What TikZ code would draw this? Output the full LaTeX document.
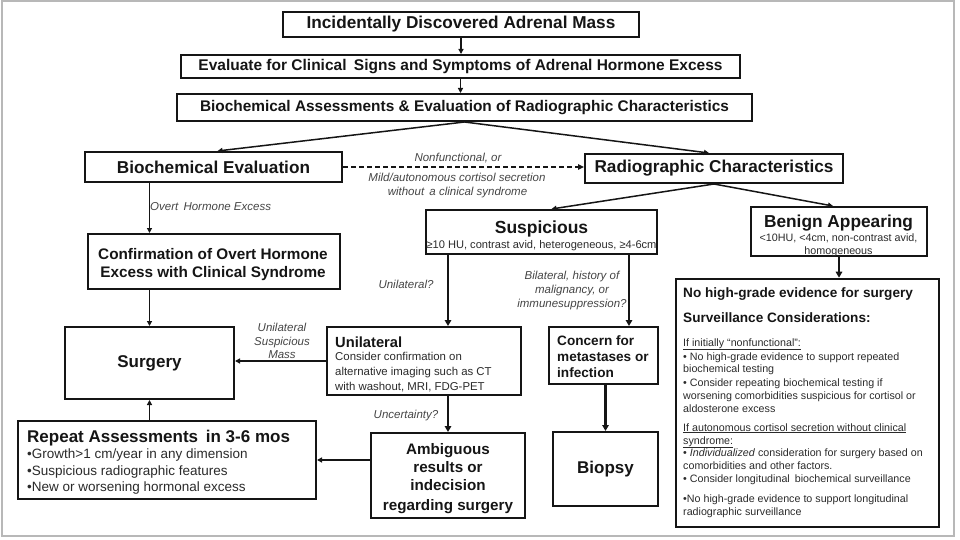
\documentclass[tikz,border=0pt]{standalone}
\usepackage{fontspec}
\setmainfont{Liberation Sans}
\usetikzlibrary{arrows.meta}
\definecolor{ink}{HTML}{151515}
\definecolor{body}{HTML}{2A2A2A}
\definecolor{lbl}{HTML}{454545}
\definecolor{framegray}{HTML}{B8B8B8}
\newcommand{\fs}[1]{\fontsize{#1}{#1}\selectfont}
\begin{document}
\begin{tikzpicture}[x=1pt,y=-1pt,
  box/.style={draw=ink, line width=2pt, inner sep=0pt, text=ink},
  bigbox/.style={draw=ink, line width=2.6pt, inner sep=0pt},
  txt/.style={inner sep=0pt, anchor=base, text=ink},
  txtl/.style={inner sep=0pt, anchor=base west, text=ink},
  bodyl/.style={inner sep=0pt, anchor=base west, text=body, font=\fs{10.7}},
  lab/.style={inner sep=0pt, anchor=base, text=lbl, font=\fs{11.5}\itshape},
  arr/.style={draw=ink, line width=1.5pt, -{Triangle[length=5pt,width=5pt]}},
  tarr/.style={draw=ink, line width=2.4pt, -{Triangle[length=6pt,width=6.5pt]}},
  dsh/.style={draw=ink, line width=1.4pt, dash pattern=on 5pt off 3pt, -{Triangle[length=6pt,width=5.5pt]}},
]
\useasboundingbox (0,0) rectangle (960,540);
\draw[framegray, line width=2pt] (1.5,1.5) rectangle (954,535.5);

% boxes
\node[box, minimum width=356pt, minimum height=25pt, font=\fs{17.2}\bfseries] (top) at (461,24.5) {Incidentally Discovered Adrenal Mass};
\node[box, minimum width=559pt, minimum height=23pt, font=\fs{15.5}\bfseries] (eval) at (460.5,66.5) {Evaluate for Clinical\hspace{3pt} Signs and Symptoms of Adrenal Hormone Excess};
\node[box, minimum width=575pt, minimum height=27pt, font=\fs{15.4}\bfseries] (bioassess) at (464.5,107.5) {Biochemical Assessments \& Evaluation of Radiographic Characteristics};
\node[box, minimum width=257pt, minimum height=30pt, font=\fs{17.2}\bfseries] (bioeval) at (213.5,167) {Biochemical Evaluation};
\node[box, minimum width=258pt, minimum height=29pt, font=\fs{17.2}\bfseries] (radio) at (714,168.5) {Radiographic Characteristics};
\node[box, minimum width=231pt, minimum height=44pt] (susp) at (541.5,232) {};
\node[box, minimum width=176pt, minimum height=49pt] (benign) at (839,231.5) {};
\node[bigbox, minimum width=263pt, minimum height=248pt] (big) at (807.5,403) {};
\node[box, minimum width=252pt, minimum height=55pt] (confirm) at (214,261.5) {};
\node[box, minimum width=169pt, minimum height=72pt, font=\fs{17}\bfseries] (surgery) at (149.5,363) {Surgery};
\node[box, minimum width=194pt, minimum height=68pt] (unilat) at (424,361) {};
\node[box, minimum width=109pt, minimum height=57pt] (concern) at (603.5,355.5) {};
\node[box, minimum width=105pt, minimum height=74pt, font=\fs{17}\bfseries] (biopsy) at (605.5,469) {Biopsy};
\node[box, minimum width=154pt, minimum height=85pt] (ambig) at (448,475.5) {};
\node[box, minimum width=298pt, minimum height=78pt] (repeat) at (167,460) {};

% box texts
\node[txt, font=\fs{17.5}\bfseries] (suspT) at (541.5,233.5) {Suspicious};
\node[txt, font=\fs{11.1}, text=body] (suspS) at (541.5,248) {≥10 HU, contrast avid, heterogeneous, ≥4-6cm};
\node[txt, font=\fs{17.3}\bfseries] (benT) at (838.5,227) {Benign Appearing};
\node[txt, font=\fs{10.75}, text=body] (benS1) at (838.5,241) {<10HU, <4cm, non-contrast avid,};
\node[txt, font=\fs{10.75}, text=body] (benS2) at (838.5,254) {homogeneous};

\node[txt, font=\fs{15.3}\bfseries] (conf1) at (213,259) {Confirmation of Overt Hormone};
\node[txt, font=\fs{15.3}\bfseries] (conf2) at (213,277) {Excess with Clinical Syndrome};

\node[txtl, font=\fs{14.7}\bfseries] (uniT) at (335,347) {Unilateral};
\node[txtl, font=\fs{11.4}, text=body] (uni1) at (335,360) {Consider confirmation on};
\node[txtl, font=\fs{11.4}, text=body] (uni2) at (335,375) {alternative imaging such as CT};
\node[txtl, font=\fs{11.4}, text=body] (uni3) at (335,390) {with washout, MRI, FDG-PET};

\node[txtl, font=\fs{13.6}\bfseries] (con1) at (557,345) {Concern for};
\node[txtl, font=\fs{13.6}\bfseries] (con2) at (557,361) {metastases or};
\node[txtl, font=\fs{13.6}\bfseries] (con3) at (557,377) {infection};

\node[txt, font=\fs{15.2}\bfseries] (amb1) at (448,454) {Ambiguous};
\node[txt, font=\fs{15.2}\bfseries] (amb2) at (448,472) {results or};
\node[txt, font=\fs{15.2}\bfseries] (amb3) at (448,490.5) {indecision};
\node[txt, font=\fs{15.2}\bfseries] (amb4) at (448,510.5) {regarding surgery};

\node[txtl, font=\fs{17}\bfseries] (rep0) at (27,442) {Repeat Assessments\hspace{3pt} in 3-6 mos};
\node[txtl, font=\fs{13.5}, text=body] (rep1) at (27,458) {•Growth>1 cm/year in any dimension};
\node[txtl, font=\fs{13.5}, text=body] (rep2) at (27,475) {•Suspicious radiographic features};
\node[txtl, font=\fs{13.5}, text=body] (rep3) at (27,491.5) {•New or worsening hormonal excess};

\node[txtl, font=\fs{13.6}\bfseries] (bg0) at (683,297) {No high-grade evidence for surgery};
\node[txtl, font=\fs{13.6}\bfseries] (bg1) at (683,322) {Surveillance Considerations:};
\node[bodyl] (bg2) at (683,346) {\underline{If initially “nonfunctional”:}};
\node[bodyl] (bg3) at (683,360) {• No high-grade evidence to support repeated};
\node[bodyl] (bg4) at (683,372.5) {biochemical testing};
\node[bodyl] (bg5) at (683,386) {• Consider repeating biochemical testing if};
\node[bodyl] (bg6) at (683,399) {worsening comorbidities suspicious for cortisol or};
\node[bodyl] (bg7) at (683,412) {aldosterone excess};
\node[bodyl] (bg8) at (683,431) {\underline{If autonomous cortisol secretion without clinical}};
\node[bodyl] (bg9) at (683,444) {\underline{syndrome:}};
\node[bodyl] (bg10) at (683,456.5) {• \textit{Individualized} consideration for surgery based on};
\node[bodyl] (bg11) at (683,469.5) {comorbidities and other factors.};
\node[bodyl] (bg12) at (683,482) {• Consider longitudinal\hspace{2pt} biochemical surveillance};
\node[bodyl] (bg13) at (683,502) {•No high-grade evidence to support longitudinal};
\node[bodyl] (bg14) at (683,515.5) {radiographic surveillance};

% labels
\node[lab] (l1) at (458,162) {Nonfunctional, or};
\node[lab] (l2) at (457,182) {Mild/autonomous cortisol secretion};
\node[lab] (l3) at (457.5,196) {without\hspace{2pt} a clinical syndrome};
\node[lab, anchor=base west] (l4) at (150,210) {Overt\hspace{2pt} Hormone Excess};
\node[lab] (l5) at (282,331) {Unilateral};
\node[lab] (l6) at (282,345) {Suspicious};
\node[lab] (l7) at (282,358) {Mass};
\node[lab] (l8) at (406,288) {Unilateral?};
\node[lab] (l9) at (572,279) {Bilateral, history of};
\node[lab] (l10) at (572,293) {malignancy, or};
\node[lab] (l11) at (572,307) {immunesuppression?};
\node[lab] (l12) at (406,418) {Uncertainty?};

% connectors
\draw[arr] (top.south) -- (top.south |- eval.north);
\draw[arr] (eval.south) -- (eval.south |- bioassess.north);
\draw[arr] (bioassess.south) -- ([xshift=4pt]bioeval.north);
\draw[arr] (bioassess.south) -- ([xshift=-5pt]radio.north);
\draw[dsh] (bioeval.east) -- (bioeval.east -| radio.west);
\draw[arr] (radio.south) -- ([xshift=10pt]susp.north);
\draw[arr] (radio.south) -- ([xshift=-6pt]benign.north);
\draw[tarr] (benign.south) -- (benign.south |- big.north);
\draw[arr] (bioeval.south -| surgery.north) -- (confirm.north -| surgery.north);
\draw[arr] (confirm.south -| surgery.north) -- (surgery.north);
\draw[arr] (repeat.north -| surgery.south) -- (surgery.south);
\draw[arr] (unilat.west) -- (unilat.west -| surgery.east);
\draw[tarr] (susp.south -| ambig.north) -- (unilat.north -| ambig.north);
\draw[tarr] ([xshift=87.5pt]susp.south) -- ([xshift=25.5pt]concern.north);
\draw[tarr] (concern.south -| biopsy.north) -- (biopsy.north);
\draw[tarr] (unilat.south -| ambig.north) -- (ambig.north);
\draw[arr] (repeat.east -| ambig.west) -- (repeat.east);
\end{tikzpicture}
\end{document}
